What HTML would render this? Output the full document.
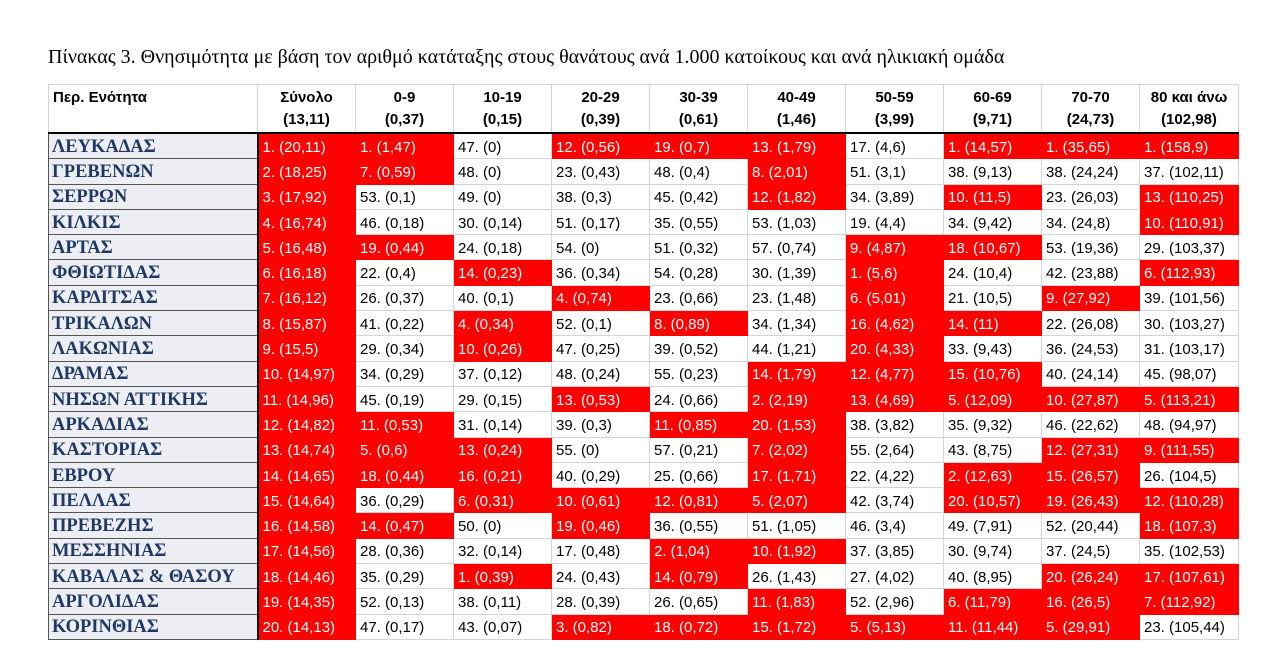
<!DOCTYPE html>
<html><head><meta charset="utf-8"><style>
body{margin:0;background:#fff;width:1277px;height:659px;overflow:hidden;position:relative}
.t{position:absolute;left:48px;top:46px;font:20px "Liberation Serif","DejaVu Serif",serif;color:#000;white-space:nowrap}
table{position:absolute;left:48px;top:84px;border-collapse:collapse;table-layout:fixed;font:15px "Liberation Sans",sans-serif;color:#000}
td,th{padding:2px 0 0 4px;border:1px solid #d4d4d4;height:22.3px;white-space:nowrap;overflow:hidden}
th{height:45px;font-weight:bold;text-align:center;vertical-align:top;line-height:22px;padding:2px 0 0 0;border-bottom:2px solid #000}
th.f{text-align:left;padding-left:4px}
td.n{background:#eceef3;color:#1f3864;font:bold 18.5px "Liberation Serif",serif;border:1px solid #555;border-right:2px solid #000;padding-left:3px}
td.r{background:#ff0000;color:#fff;border-color:#ff0000}
</style></head><body>
<div class="t">Πίνακας 3. Θνησιμότητα με βάση τον αριθμό κατάταξης στους θανάτους ανά 1.000 κατοίκους και ανά ηλικιακή ομάδα</div>
<table>
<colgroup><col style="width:209px"><col style="width:98px"><col style="width:98px"><col style="width:98px"><col style="width:98px"><col style="width:98px"><col style="width:98px"><col style="width:98px"><col style="width:98px"><col style="width:98px"><col style="width:99px"></colgroup>
<tr><th class="f">Περ. Ενότητα</th><th>Σύνολο<br>(13,11)</th><th>0-9<br>(0,37)</th><th>10-19<br>(0,15)</th><th>20-29<br>(0,39)</th><th>30-39<br>(0,61)</th><th>40-49<br>(1,46)</th><th>50-59<br>(3,99)</th><th>60-69<br>(9,71)</th><th>70-70<br>(24,73)</th><th>80 και άνω<br>(102,98)</th></tr>
<tr><td class="n">ΛΕΥΚΑΔΑΣ</td><td class="r">1. (20,11)</td><td class="r">1. (1,47)</td><td>47. (0)</td><td class="r">12. (0,56)</td><td class="r">19. (0,7)</td><td class="r">13. (1,79)</td><td>17. (4,6)</td><td class="r">1. (14,57)</td><td class="r">1. (35,65)</td><td class="r">1. (158,9)</td></tr>
<tr><td class="n">ΓΡΕΒΕΝΩΝ</td><td class="r">2. (18,25)</td><td class="r">7. (0,59)</td><td>48. (0)</td><td>23. (0,43)</td><td>48. (0,4)</td><td class="r">8. (2,01)</td><td>51. (3,1)</td><td>38. (9,13)</td><td>38. (24,24)</td><td>37. (102,11)</td></tr>
<tr><td class="n">ΣΕΡΡΩΝ</td><td class="r">3. (17,92)</td><td>53. (0,1)</td><td>49. (0)</td><td>38. (0,3)</td><td>45. (0,42)</td><td class="r">12. (1,82)</td><td>34. (3,89)</td><td class="r">10. (11,5)</td><td>23. (26,03)</td><td class="r">13. (110,25)</td></tr>
<tr><td class="n">ΚΙΛΚΙΣ</td><td class="r">4. (16,74)</td><td>46. (0,18)</td><td>30. (0,14)</td><td>51. (0,17)</td><td>35. (0,55)</td><td>53. (1,03)</td><td>19. (4,4)</td><td>34. (9,42)</td><td>34. (24,8)</td><td class="r">10. (110,91)</td></tr>
<tr><td class="n">ΑΡΤΑΣ</td><td class="r">5. (16,48)</td><td class="r">19. (0,44)</td><td>24. (0,18)</td><td>54. (0)</td><td>51. (0,32)</td><td>57. (0,74)</td><td class="r">9. (4,87)</td><td class="r">18. (10,67)</td><td>53. (19,36)</td><td>29. (103,37)</td></tr>
<tr><td class="n">ΦΘΙΩΤΙΔΑΣ</td><td class="r">6. (16,18)</td><td>22. (0,4)</td><td class="r">14. (0,23)</td><td>36. (0,34)</td><td>54. (0,28)</td><td>30. (1,39)</td><td class="r">1. (5,6)</td><td>24. (10,4)</td><td>42. (23,88)</td><td class="r">6. (112,93)</td></tr>
<tr><td class="n">ΚΑΡΔΙΤΣΑΣ</td><td class="r">7. (16,12)</td><td>26. (0,37)</td><td>40. (0,1)</td><td class="r">4. (0,74)</td><td>23. (0,66)</td><td>23. (1,48)</td><td class="r">6. (5,01)</td><td>21. (10,5)</td><td class="r">9. (27,92)</td><td>39. (101,56)</td></tr>
<tr><td class="n">ΤΡΙΚΑΛΩΝ</td><td class="r">8. (15,87)</td><td>41. (0,22)</td><td class="r">4. (0,34)</td><td>52. (0,1)</td><td class="r">8. (0,89)</td><td>34. (1,34)</td><td class="r">16. (4,62)</td><td class="r">14. (11)</td><td>22. (26,08)</td><td>30. (103,27)</td></tr>
<tr><td class="n">ΛΑΚΩΝΙΑΣ</td><td class="r">9. (15,5)</td><td>29. (0,34)</td><td class="r">10. (0,26)</td><td>47. (0,25)</td><td>39. (0,52)</td><td>44. (1,21)</td><td class="r">20. (4,33)</td><td>33. (9,43)</td><td>36. (24,53)</td><td>31. (103,17)</td></tr>
<tr><td class="n">ΔΡΑΜΑΣ</td><td class="r">10. (14,97)</td><td>34. (0,29)</td><td>37. (0,12)</td><td>48. (0,24)</td><td>55. (0,23)</td><td class="r">14. (1,79)</td><td class="r">12. (4,77)</td><td class="r">15. (10,76)</td><td>40. (24,14)</td><td>45. (98,07)</td></tr>
<tr><td class="n">ΝΗΣΩΝ ΑΤΤΙΚΗΣ</td><td class="r">11. (14,96)</td><td>45. (0,19)</td><td>29. (0,15)</td><td class="r">13. (0,53)</td><td>24. (0,66)</td><td class="r">2. (2,19)</td><td class="r">13. (4,69)</td><td class="r">5. (12,09)</td><td class="r">10. (27,87)</td><td class="r">5. (113,21)</td></tr>
<tr><td class="n">ΑΡΚΑΔΙΑΣ</td><td class="r">12. (14,82)</td><td class="r">11. (0,53)</td><td>31. (0,14)</td><td>39. (0,3)</td><td class="r">11. (0,85)</td><td class="r">20. (1,53)</td><td>38. (3,82)</td><td>35. (9,32)</td><td>46. (22,62)</td><td>48. (94,97)</td></tr>
<tr><td class="n">ΚΑΣΤΟΡΙΑΣ</td><td class="r">13. (14,74)</td><td class="r">5. (0,6)</td><td class="r">13. (0,24)</td><td>55. (0)</td><td>57. (0,21)</td><td class="r">7. (2,02)</td><td>55. (2,64)</td><td>43. (8,75)</td><td class="r">12. (27,31)</td><td class="r">9. (111,55)</td></tr>
<tr><td class="n">ΕΒΡΟΥ</td><td class="r">14. (14,65)</td><td class="r">18. (0,44)</td><td class="r">16. (0,21)</td><td>40. (0,29)</td><td>25. (0,66)</td><td class="r">17. (1,71)</td><td>22. (4,22)</td><td class="r">2. (12,63)</td><td class="r">15. (26,57)</td><td>26. (104,5)</td></tr>
<tr><td class="n">ΠΕΛΛΑΣ</td><td class="r">15. (14,64)</td><td>36. (0,29)</td><td class="r">6. (0,31)</td><td class="r">10. (0,61)</td><td class="r">12. (0,81)</td><td class="r">5. (2,07)</td><td>42. (3,74)</td><td class="r">20. (10,57)</td><td class="r">19. (26,43)</td><td class="r">12. (110,28)</td></tr>
<tr><td class="n">ΠΡΕΒΕΖΗΣ</td><td class="r">16. (14,58)</td><td class="r">14. (0,47)</td><td>50. (0)</td><td class="r">19. (0,46)</td><td>36. (0,55)</td><td>51. (1,05)</td><td>46. (3,4)</td><td>49. (7,91)</td><td>52. (20,44)</td><td class="r">18. (107,3)</td></tr>
<tr><td class="n">ΜΕΣΣΗΝΙΑΣ</td><td class="r">17. (14,56)</td><td>28. (0,36)</td><td>32. (0,14)</td><td>17. (0,48)</td><td class="r">2. (1,04)</td><td class="r">10. (1,92)</td><td>37. (3,85)</td><td>30. (9,74)</td><td>37. (24,5)</td><td>35. (102,53)</td></tr>
<tr><td class="n">ΚΑΒΑΛΑΣ &amp; ΘΑΣΟΥ</td><td class="r">18. (14,46)</td><td>35. (0,29)</td><td class="r">1. (0,39)</td><td>24. (0,43)</td><td class="r">14. (0,79)</td><td>26. (1,43)</td><td>27. (4,02)</td><td>40. (8,95)</td><td class="r">20. (26,24)</td><td class="r">17. (107,61)</td></tr>
<tr><td class="n">ΑΡΓΟΛΙΔΑΣ</td><td class="r">19. (14,35)</td><td>52. (0,13)</td><td>38. (0,11)</td><td>28. (0,39)</td><td>26. (0,65)</td><td class="r">11. (1,83)</td><td>52. (2,96)</td><td class="r">6. (11,79)</td><td class="r">16. (26,5)</td><td class="r">7. (112,92)</td></tr>
<tr><td class="n">ΚΟΡΙΝΘΙΑΣ</td><td class="r">20. (14,13)</td><td>47. (0,17)</td><td>43. (0,07)</td><td class="r">3. (0,82)</td><td class="r">18. (0,72)</td><td class="r">15. (1,72)</td><td class="r">5. (5,13)</td><td class="r">11. (11,44)</td><td class="r">5. (29,91)</td><td>23. (105,44)</td></tr>
</table>
</body></html>
